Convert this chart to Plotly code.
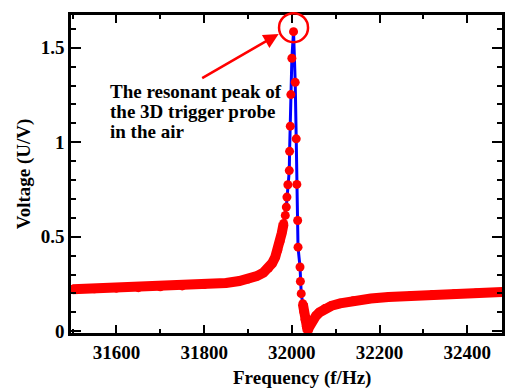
import plotly.graph_objects as go

freq = [31500, 31550, 31600, 31650, 31700, 31750, 31800, 31850, 31880, 31900,
        31920, 31935, 31947, 31955, 31962, 31968, 31973, 31977, 31981.2, 31985,
        31987.3, 31988.7, 31990.9, 31994.1, 31994.8, 31996.4, 31997.7, 32000, 32003.8,
        32007.6, 32009.9, 32011.3, 32013.2, 32014.0, 32018.6, 32019.4, 32021.3, 32024.9,
        32027, 32030, 32033, 32036, 32039, 32043, 32048, 32055, 32063, 32075,
        32090, 32110, 32140, 32180, 32220, 32270, 32320, 32370, 32420, 32480]
volt = [0.222, 0.225, 0.228, 0.231, 0.235, 0.240, 0.247, 0.256, 0.266, 0.276,
        0.292, 0.310, 0.335, 0.360, 0.392, 0.430, 0.475, 0.520, 0.570, 0.613,
        0.657, 0.710, 0.775, 0.850, 0.952, 1.085, 1.252, 1.444, 1.585,
        1.317, 1.018, 0.777, 0.586, 0.445, 0.340, 0.264, 0.199, 0.146,
        0.105, 0.062, 0.025, 0.002, 0.020, 0.040, 0.060, 0.082, 0.100, 0.120,
        0.135, 0.148, 0.162, 0.173, 0.181, 0.188, 0.194, 0.199, 0.203, 0.208]

x_ticks = [31600, 31800, 32000, 32200, 32400]
x_tick_text = ["<b>31600</b>", "<b>31800</b>", "<b>32000</b>", "<b>32200</b>", "<b>32400</b>"]
y_ticks = [0, 0.5, 1, 1.5]
y_tick_text = ["<b>0</b>", "<b>0.5</b>", "<b>1</b>", "<b>1.5</b>"]

x_range = [31496.5, 32479]
y_range = [-0.009, 1.673]

peak_f, peak_v = 32003.8, 1.606   # circled resonant peak
note_lines = ["The resonant peak of", "the 3D trigger probe", "in the air"]

# dense parts of the measured curve (markers merge into a band)
band_x, band_y = [], []
for f, v in zip(freq, volt):
    if 31982 < f < 32024:
        if band_x and band_x[-1] is not None:
            band_x.append(None)
            band_y.append(None)
    else:
        band_x.append(f)
        band_y.append(v)

FONT = "'Liberation Serif', 'Times New Roman', Times, serif"

fig = go.Figure()
fig.add_trace(go.Scatter(x=freq, y=volt, mode="lines",
                         line=dict(color="#0000ff", width=3), showlegend=False))
fig.add_trace(go.Scatter(x=band_x, y=band_y, mode="lines", connectgaps=False,
                         line=dict(color="#ff0000", width=10), showlegend=False))
fig.add_trace(go.Scatter(x=freq, y=volt, mode="markers",
                         marker=dict(color="#ff0000", size=9), showlegend=False))

axis_common = dict(showline=True, linecolor="black", linewidth=2.5, mirror="ticks",
                   ticks="inside", tickcolor="black", tickwidth=2,
                   showgrid=False, zeroline=False,
                   tickfont=dict(family=FONT, size=19, color="black"))

fig.update_xaxes(range=x_range, tickvals=x_ticks, ticktext=x_tick_text, ticklen=8,
                 minor=dict(dtick=100, tick0=31500, ticks="inside", ticklen=4,
                            tickwidth=2, tickcolor="black"),
                 **axis_common)
fig.update_yaxes(range=y_range, tickvals=y_ticks, ticktext=y_tick_text, ticklen=10,
                 minor=dict(dtick=0.1, tick0=0, ticks="inside", ticklen=5,
                            tickwidth=2, tickcolor="black"),
                 **axis_common)

def fx(f):
    return (f - x_range[0]) / (x_range[1] - x_range[0])

def fy(v):
    return (v - y_range[0]) / (y_range[1] - y_range[0])

annotations = []
line_y = [1.2705, 1.1647, 1.0589]
for txt, yy in zip(note_lines, line_y):
    annotations.append(dict(x=31580, y=yy, xref="x", yref="y", text="<b>" + txt + "</b>",
                            showarrow=False, xanchor="left", yanchor="middle",
                            font=dict(family=FONT, size=19, color="black")))
# arrow pointing to the peak
annotations.append(dict(x=31969.9, y=1.573, xref="x", yref="y", text="", showarrow=True,
                        ax=-78, ay=45, arrowcolor="#ff0000", arrowwidth=2.5,
                        arrowhead=2, arrowsize=1.2))
# axis titles
annotations.append(dict(x=0.5357, y=-0.1415, xref="paper", yref="paper",
                        text="<b>Frequency (f/Hz)</b>", showarrow=False,
                        xanchor="center", yanchor="middle",
                        font=dict(family=FONT, size=19, color="black")))
annotations.append(dict(x=-0.1083, y=0.5, xref="paper", yref="paper",
                        text="<b>Voltage (U/V)</b>", showarrow=False, textangle=-90,
                        xanchor="center", yanchor="middle",
                        font=dict(family=FONT, size=19, color="black")))

fig.update_layout(
    width=505, height=389,
    margin=dict(l=71, r=0, t=15, b=56),
    plot_bgcolor="white", paper_bgcolor="white",
    font=dict(family=FONT),
    annotations=annotations,
    shapes=[dict(type="circle", xref="paper", yref="paper",
                 xsizemode="pixel", ysizemode="pixel",
                 xanchor=fx(peak_f), yanchor=fy(peak_v),
                 x0=-14.5, x1=14.5, y0=-14.5, y1=14.5,
                 line=dict(color="#ff0000", width=2.5))],
)

fig.write_html("out.html")
